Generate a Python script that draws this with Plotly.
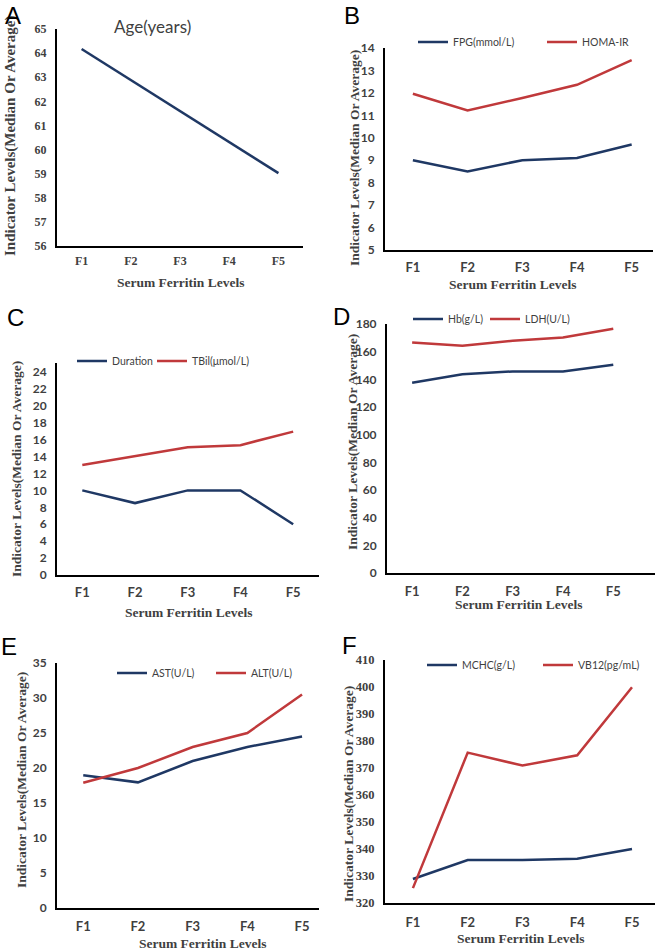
import plotly.graph_objects as go

# ---- data ----
levels = ["F1", "F2", "F3", "F4", "F5"]

age = [64.17, 62.88, 61.59, 60.30, 59.02]
fpg = [9.0, 8.5, 9.0, 9.1, 9.7]
homa_ir = [11.96, 11.22, 11.77, 12.36, 13.46]
duration = [10.0, 8.5, 10.0, 10.0, 6.0]
tbil = [13.0, 14.05, 15.1, 15.35, 16.95]
hb = [137.5, 143.7, 145.7, 145.7, 150.6]
ldh = [166.7, 164.3, 167.9, 170.3, 176.6]
ast = [18.95, 17.95, 21.0, 23.0, 24.5]
alt = [17.9, 20.0, 23.0, 25.0, 30.5]
mchc = [328.9, 335.9, 335.9, 336.4, 340.0]
vb12 = [325.5, 375.7, 370.9, 374.7, 399.9]

W, H = 661, 950
BLUE = "#1f3864"
RED = "#c0393b"
GREY = "#3f3f3f"
SERIF = "Liberation Serif"
SANS = "Lato"


def px(x):
    return x / W


def py(y):
    return 1 - y / H


fig = go.Figure()

# panel layout in pixels: plot box, axis ranges, fonts, label / title spots
panels = [
    dict(dom=(57, 303, 29, 246), xr=[-0.5, 4.5], yr=[56, 65], dt=1,
         yfont=(SERIF, 12), xfont=(SERIF, 12), xoff=3, xtitle=(180, 282), ytitle=(10, 136, 15)),
    dict(dom=(385, 653, 48, 250), xr=[-0.51, 4.39], yr=[5, 14], dt=1,
         yfont=(SANS, 12), xfont=(SANS, 13), xoff=4, xtitle=(512, 284), ytitle=(355, 158, 13.5)),
    dict(dom=(57, 319, 363, 575), xr=[-0.48, 4.49], yr=[0, 25.06], dt=2,
         yfont=(SANS, 12), xfont=(SANS, 13), xoff=4, xtitle=(188, 612), ytitle=(17, 469, 13.5)),
    dict(dom=(387, 655, 324, 573), xr=[-0.5, 4.83], yr=[0, 180], dt=20,
         yfont=(SANS, 12), xfont=(SANS, 13), xoff=5, xtitle=(518, 604), ytitle=(352, 442, 13.5)),
    dict(dom=(57, 319, 663, 908), xr=[-0.48, 4.31], yr=[0, 35], dt=5,
         yfont=(SANS, 12), xfont=(SANS, 13), xoff=5, xtitle=(202, 943), ytitle=(21, 780, 13.5)),
    dict(dom=(385, 655, 660, 903), xr=[-0.51, 4.42], yr=[320, 410], dt=10,
         yfont=(SERIF, 12.5), xfont=(SANS, 13), xoff=6, xtitle=(520, 938), ytitle=(348, 794, 13.5)),
]

# series per panel: (name, values, colour, legend line start px, legend y px)
series = [
    [("Age(years)", age, BLUE, None, None)],
    [("FPG(mmol/L)", fpg, BLUE, 418, 42), ("HOMA-IR", homa_ir, RED, 547, 42)],
    [("Duration", duration, BLUE, 77, 361), ("TBil(μmol/L)", tbil, RED, 157, 361)],
    [("Hb(g/L)", hb, BLUE, 413, 319), ("LDH(U/L)", ldh, RED, 490, 319)],
    [("AST(U/L)", ast, BLUE, 117, 673), ("ALT(U/L)", alt, RED, 216, 673)],
    [("MCHC(g/L)", mchc, BLUE, 427, 665), ("VB12(pg/mL)", vb12, RED, 543, 665)],
]

# panel letters: (text, centre x px, top y px)
letters = [("A", 13, 0), ("B", 352, 0), ("C", 15, 302), ("D", 341, 301), ("E", 9, 631), ("F", 349, 630)]

annotations = []
leg_n = 0
for i, (p, sers) in enumerate(zip(panels, series)):
    k = "" if i == 0 else str(i + 1)
    x0, x1, yt, yb = p["dom"]
    fig.update_layout({
        f"xaxis{k}": dict(
            domain=[px(x0), px(x1)], anchor=f"y{k}", type="category", range=p["xr"],
            showline=True, linecolor="black", linewidth=2, showgrid=False, zeroline=False,
            ticks="", fixedrange=True,
            tickfont=dict(family=p["xfont"][0], size=p["xfont"][1], color=GREY, weight="bold"),
            ticklabelstandoff=p["xoff"],
        ),
        f"yaxis{k}": dict(
            domain=[py(yb), py(yt)], anchor=f"x{k}", range=p["yr"], dtick=p["dt"],
            tick0=p["yr"][0],
            showline=True, linecolor="black", linewidth=2, showgrid=False, zeroline=False,
            ticks="", fixedrange=True, ticklabelstandoff=6,
            tickfont=dict(family=p["yfont"][0], size=p["yfont"][1], color=GREY, weight="bold"),
        ),
    })
    for name, vals, col, lx, ly in sers:
        tr = dict(x=levels, y=vals, name=name, mode="lines",
                  line=dict(color=col, width=2.5), xaxis=f"x{k}", yaxis=f"y{k}")
        if lx is None:
            tr["showlegend"] = False
        else:
            leg_n += 1
            lname = "legend" if leg_n == 1 else f"legend{leg_n}"
            tr["legend"] = lname
            fig.update_layout({lname: dict(
                x=px(lx - 5), y=py(ly), xanchor="left", yanchor="middle",
                orientation="h", bgcolor="rgba(0,0,0,0)", borderwidth=0,
                font=dict(family=SANS, size=10.5, color=GREY),
            )})
        fig.add_trace(go.Scatter(**tr))

    tx, ty = p["xtitle"]
    annotations.append(dict(
        text="Serum Ferritin Levels", x=px(tx), y=py(ty), xref="paper", yref="paper",
        showarrow=False, xanchor="center", yanchor="middle",
        font=dict(family=SERIF, size=13.5, color=GREY, weight="bold")))
    yx, yy, ys = p["ytitle"]
    annotations.append(dict(
        text="Indicator Levels(Median Or Average)", x=px(yx), y=py(yy), xref="paper", yref="paper",
        showarrow=False, xanchor="center", yanchor="middle", textangle=-90,
        font=dict(family=SERIF, size=ys, color=GREY, weight="bold")))

for t, lx, ly in letters:
    annotations.append(dict(
        text=t, x=px(lx), y=py(ly), xref="paper", yref="paper", showarrow=False,
        xanchor="center", yanchor="top",
        font=dict(family="Liberation Sans", size=24, color="black")))

# chart title of panel A
annotations.append(dict(
    text="Age(years)", x=px(152), y=py(27), xref="paper", yref="paper", showarrow=False,
    xanchor="center", yanchor="middle", font=dict(family=SANS, size=17, color=GREY)))

fig.update_layout(
    width=W, height=H, margin=dict(l=0, r=0, t=0, b=0, autoexpand=False),
    paper_bgcolor="white", plot_bgcolor="white",
    annotations=annotations, hovermode=False,
)

# drop the default 8px page margin so the figure fills the window
fig.write_html("out.html", config={"displayModeBar": False},
               post_script="document.body.style.margin='0px';")
